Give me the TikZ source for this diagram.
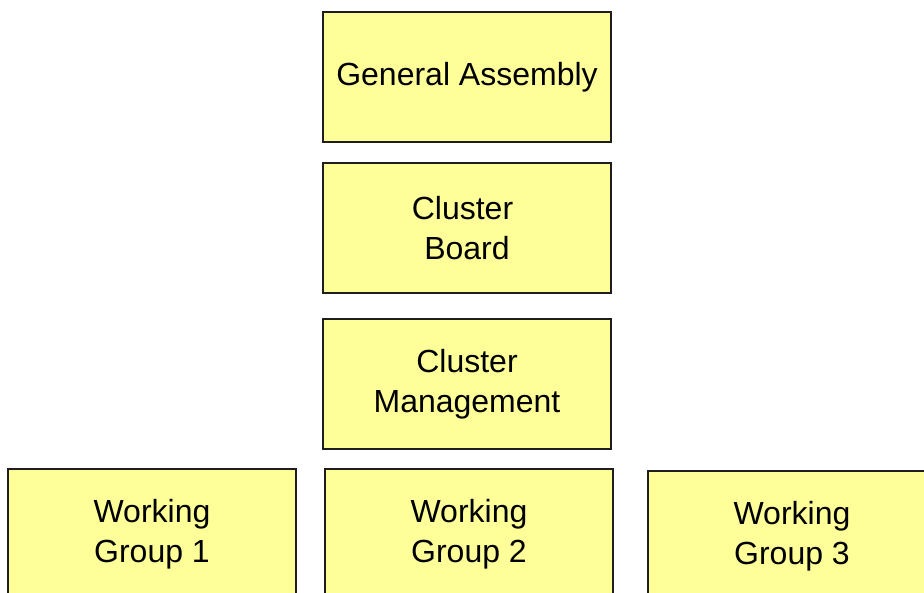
\documentclass[tikz,border=0pt]{standalone}
\usepackage{fontspec}
\setmainfont{Liberation Sans}
\definecolor{boxfill}{RGB}{255,255,153}
\definecolor{boxline}{RGB}{30,30,30}
\begin{document}
\begin{tikzpicture}[x=1pt,y=-1pt,
  orgbox/.style={draw=boxline, fill=boxfill, line width=1.6pt,
    minimum width=288pt, minimum height=130pt, inner sep=0pt,
    align=center, font=\fontsize{32}{40}\selectfont}]
\useasboundingbox (0,0) rectangle (924,592);
\clip (0,0) rectangle (924,592);
\node[orgbox] (ga) at (467,77) {General Assembly};
\node[orgbox] (cb) at (467,228) {Cluster\hspace*{9pt}\\Board};
\node[orgbox] (cm) at (467,384) {Cluster\\Management};
\node[orgbox] (wg1) at (152,534) {Working\\Group 1};
\node[orgbox] (wg2) at (469,534) {Working\\Group 2};
\node[orgbox] (wg3) at (792,536) {Working\\Group 3};
\end{tikzpicture}
\end{document}
